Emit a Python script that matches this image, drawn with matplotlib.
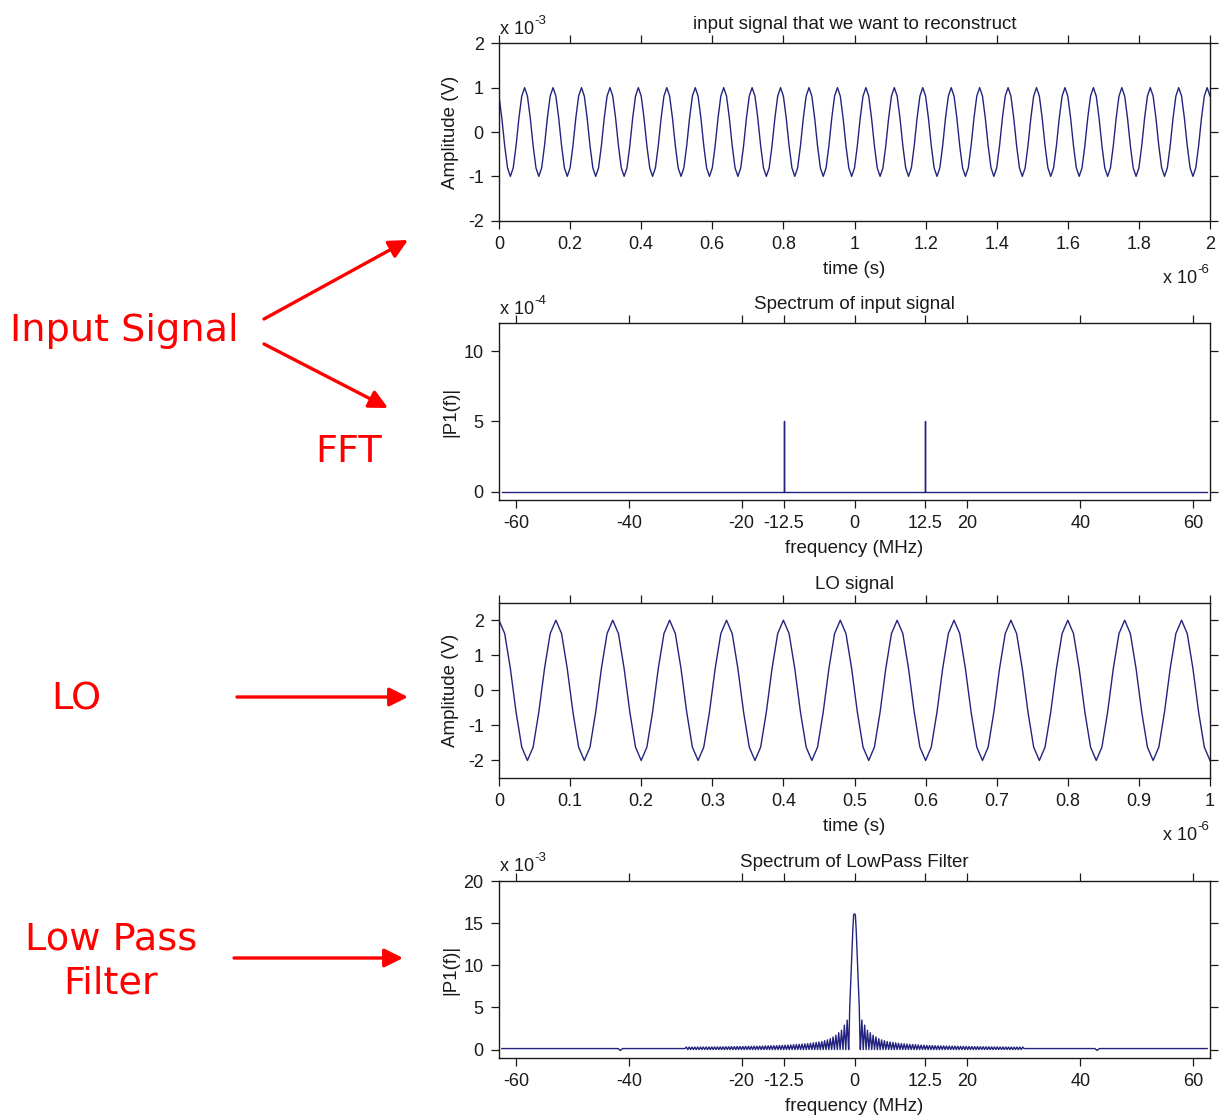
import numpy as np
import matplotlib
matplotlib.use('Agg')
import matplotlib.pyplot as plt

# ---------------- data ----------------
sample_period_us = 0.008                      # time between samples (us)
# one period of the sampled 12.5 MHz input tone (x1e-3 V)
input_cycle = [0.81, 0.31, -0.31, -0.81, -1.0, -0.81, -0.31, 0.31, 0.81, 1.0]
input_n_samples = 251
# one period of the sampled LO (V)
lo_cycle = [2.0, 1.62, 0.62, -0.62, -1.62, -2.0, -1.62, -0.62, 0.62, 1.62]
lo_n_samples = 126

spec_band = [-62.5, 62.5]                     # MHz
input_tone_freqs = [-12.5, 12.5]              # MHz
input_tone_amps = [5.0, 5.0]                  # x1e-4

# low-pass filter spectrum (x1e-3)
lpf_main_freqs = [-1.0, -0.85, -0.55, -0.3, -0.15, 0.0, 0.15, 0.3, 0.55, 0.85, 1.0]
lpf_main_vals = [0.1, 4.9, 10.0, 14.2, 16.0, 16.1, 16.0, 14.2, 10.0, 4.9, 0.1]
lpf_side_freqs = [1.3, 1.8, 2.3, 2.8, 3.3, 3.8, 4.3, 4.8, 5.3, 5.8, 6.3, 6.8, 7.3, 7.8,
                  8.3, 8.8, 9.3, 9.8, 10.3, 10.8, 11.3, 11.8, 12.3, 12.8, 13.3, 13.8,
                  14.3, 14.8, 15.3, 15.8, 16.3, 16.8, 17.3, 17.8, 18.3, 18.8, 19.3, 19.8,
                  20.3, 20.8, 21.3, 21.8, 22.3, 22.8, 23.3, 23.8, 24.3, 24.8, 25.3, 25.8,
                  26.3, 26.8, 27.3, 27.8, 28.3, 28.8, 29.3, 29.8]
lpf_side_peaks = [3.5, 2.9, 2.3, 2.0, 1.7, 1.5, 1.3, 1.15, 1.05, 0.95, 0.9, 0.85, 0.8, 0.75,
                  0.7, 0.68, 0.65, 0.62, 0.6, 0.58, 0.55, 0.53, 0.52, 0.5, 0.48, 0.47,
                  0.46, 0.45, 0.44, 0.43, 0.42, 0.41, 0.4, 0.4, 0.39, 0.38, 0.38, 0.37,
                  0.36, 0.36, 0.35, 0.35, 0.34, 0.34, 0.33, 0.33, 0.32, 0.32, 0.32, 0.31,
                  0.31, 0.31, 0.3, 0.3, 0.3, 0.3, 0.3, 0.3]
lpf_trough = 0.0
lpf_floor = 0.12
lpf_blip_freqs = [-41.5, 43.0]
lpf_blip_vals = [-0.1, -0.1]

freq_ticks = [-60, -40, -20, -12.5, 0, 12.5, 20, 40, 60]
freq_ticklabels = ['-60', '-40', '-20', '-12.5', '0', '12.5', '20', '40', '60']
t1_ticks = [0, 0.2, 0.4, 0.6, 0.8, 1.0, 1.2, 1.4, 1.6, 1.8, 2.0]
t1_labels = ['0', '0.2', '0.4', '0.6', '0.8', '1', '1.2', '1.4', '1.6', '1.8', '2']
t3_ticks = [0, 0.1, 0.2, 0.3, 0.4, 0.5, 0.6, 0.7, 0.8, 0.9, 1.0]
t3_labels = ['0', '0.1', '0.2', '0.3', '0.4', '0.5', '0.6', '0.7', '0.8', '0.9', '1']

# ---------------- figure ----------------
W, H = 1229, 1117
plt.rcParams['font.family'] = ['Liberation Sans', 'DejaVu Sans']
plt.rcParams['axes.unicode_minus'] = False
fig = plt.figure(figsize=(W / 100, H / 100), dpi=100)
LINE = '#23237f'
TXT = '#1a1a1a'
FS_TICK = 13
FS_LAB = 13.5


def px(x, y):
    return x / W, 1 - y / H


def make_ax(top, bottom, left=499, right=1210):
    return fig.add_axes([left / W, 1 - bottom / H, (right - left) / W, (bottom - top) / H])


def style(ax):
    ax.tick_params(direction='out', length=6, width=0.9, top=True, right=True,
                   labeltop=False, labelright=False, labelsize=FS_TICK, pad=5, colors=TXT)
    for s in ax.spines.values():
        s.set_linewidth(1.0)
        s.set_color(TXT)


def offset_text(x, y, exp):
    fig.text(*px(x, y), 'x 10', fontsize=FS_TICK, ha='left', va='baseline', color=TXT)
    fig.text(*px(x + 34, y - 10), exp, fontsize=9.5, ha='left', va='baseline', color=TXT)


ax1 = make_ax(43.3, 220.7)
ax2 = make_ax(323, 500)
ax3 = make_ax(602.7, 778)
ax4 = make_ax(881, 1058)

# panel 1: input signal
t_in = np.arange(input_n_samples) * sample_period_us
ax1.plot(t_in, np.resize(input_cycle, input_n_samples), color=LINE, lw=1.0)
ax1.set_xlim(0, 2)
ax1.set_ylim(-2, 2)
ax1.set_xticks(t1_ticks, t1_labels)
ax1.set_yticks([-2, -1, 0, 1, 2])

# panel 2: input spectrum
xs, ys = [spec_band[0]], [0.0]
for f, a in zip(input_tone_freqs, input_tone_amps):
    xs += [f, f, f]
    ys += [0.0, a, 0.0]
xs.append(spec_band[1]); ys.append(0.0)
ax2.plot(xs, ys, color=LINE, lw=1.0)
ax2.set_xlim(-63, 63)
ax2.set_ylim(-0.6, 12)
ax2.set_xticks(freq_ticks, freq_ticklabels)
ax2.set_yticks([0, 5, 10])

# panel 3: LO
t_lo = np.arange(lo_n_samples) * sample_period_us
ax3.plot(t_lo, np.resize(lo_cycle, lo_n_samples), color=LINE, lw=1.0)
ax3.set_xlim(0, 1)
ax3.set_ylim(-2.5, 2.5)
ax3.set_xticks(t3_ticks, t3_labels)
ax3.set_yticks([-2, -1, 0, 1, 2])

# panel 4: low-pass filter spectrum
side_f = np.array(lpf_side_freqs)
side_v = np.array(lpf_side_peaks)
mid_f = np.concatenate([[lpf_main_freqs[-1] + 0.05], (side_f[:-1] + side_f[1:]) / 2])
pos_f, pos_v = [], []
for mf, f, v in zip(mid_f, side_f, side_v):
    pos_f += [mf, f]
    pos_v += [lpf_trough, v]
pos_f.append(side_f[-1] + 0.25)
pos_v.append(lpf_floor)
pos_f = np.array(pos_f)
pos_v = np.array(pos_v)
fx = ([spec_band[0], lpf_blip_freqs[0] - 0.4, lpf_blip_freqs[0], lpf_blip_freqs[0] + 0.4]
      + list(-pos_f[::-1]) + lpf_main_freqs + list(pos_f)
      + [lpf_blip_freqs[1] - 0.4, lpf_blip_freqs[1], lpf_blip_freqs[1] + 0.4, spec_band[1]])
fy = ([lpf_floor, lpf_floor, lpf_blip_vals[0], lpf_floor]
      + list(pos_v[::-1]) + lpf_main_vals + list(pos_v)
      + [lpf_floor, lpf_blip_vals[1], lpf_floor, lpf_floor])
ax4.plot(fx, fy, color=LINE, lw=1.0)
ax4.set_xlim(-63, 63)
ax4.set_ylim(-1, 20)
ax4.set_xticks(freq_ticks, freq_ticklabels)
ax4.set_yticks([0, 5, 10, 15, 20])

titles = ['input signal that we want to reconstruct', 'Spectrum of input signal',
          'LO signal', 'Spectrum of LowPass Filter']
ylabels = ['Amplitude (V)', '|P1(f)|', 'Amplitude (V)', '|P1(f)|']
xlabels = ['time (s)', 'frequency (MHz)', 'time (s)', 'frequency (MHz)']
for ax, ti, yl, xl in zip([ax1, ax2, ax3, ax4], titles, ylabels, xlabels):
    style(ax)
    ax.set_title(ti, fontsize=FS_LAB, pad=10, color=TXT)
    ax.set_ylabel(yl, fontsize=FS_LAB, color=TXT)
    ax.set_xlabel(xl, fontsize=FS_LAB, color=TXT)
    bb_h = ax.get_position().height * H
    ax.xaxis.set_label_coords(0.5, -40 / bb_h)
    ax.yaxis.set_label_coords(-40 / 711, 0.5)

offset_text(500, 34, '-3')
offset_text(500, 314, '-4')
offset_text(500, 871, '-3')
offset_text(1163, 283, '-6')
offset_text(1163, 840, '-6')

# ---------------- red annotations ----------------
RED = '#ff0000'
ann_font = dict(color=RED, fontsize=27.5, family='DejaVu Sans', va='center')
fig.text(*px(10, 331), 'Input Signal', ha='left', **ann_font)
fig.text(*px(349, 452), 'FFT', ha='center', **ann_font)
fig.text(*px(76, 700), 'LO', ha='center', **ann_font)
fig.text(*px(111, 939), 'Low Pass', ha='center', **ann_font)
fig.text(*px(111, 984), 'Filter', ha='center', **ann_font)

arrows = [((264, 319), (408, 240)), ((264, 344), (388, 408)),
          ((237, 697), (408, 697)), ((234, 958), (403, 958))]
for (x0, y0), (x1, y1) in arrows:
    fig.patches.append(matplotlib.patches.FancyArrowPatch(
        px(x0, y0), px(x1, y1), transform=fig.transFigure, arrowstyle='-|>',
        mutation_scale=28, color=RED, lw=2.4, shrinkA=0, shrinkB=0))

fig.savefig('out.png', dpi=100, facecolor='white')
